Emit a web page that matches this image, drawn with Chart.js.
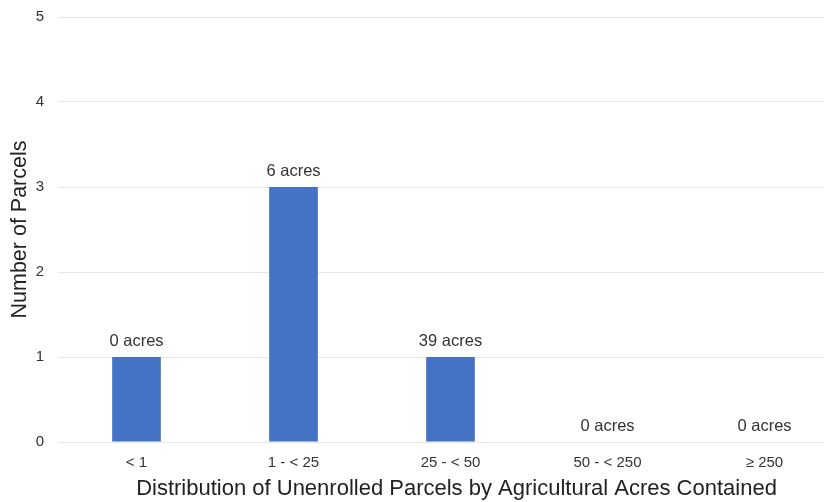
<!DOCTYPE html>
<html>
<head>
<meta charset="utf-8">
<script src="https://cdn.jsdelivr.net/npm/chart.js@4"></script>
<style>
  html, body { margin: 0; padding: 0; background: #fff; overflow: hidden; }
  #wrap { width: 843px; height: 502px; position: relative; }
</style>
</head>
<body>
<div id="wrap"><canvas id="c"></canvas></div>
<script>
// Acreage size classes
const categories = ['< 1', '1 - < 25', '25 - < 50', '50 - < 250', '\u2265 250'];
// Number of unenrolled parcels in each class
const parcelCounts = [1, 3, 1, 0, 0];
// Total agricultural acres contained in each class
const acresContained = [0, 6, 39, 0, 0];
const yTicks = [0, 1, 2, 3, 4, 5];
const xTitle = 'Distribution of Unenrolled Parcels by Agricultural Acres Contained';

const FONT = '"Liberation Sans", Arial, sans-serif';

// Writes "N acres" above each bar and the x-axis caption under the tick labels
const acreLabels = {
  id: 'acreLabels',
  afterDatasetsDraw(chart) {
    const ctx = chart.ctx;
    const meta = chart.getDatasetMeta(0);
    ctx.save();
    ctx.font = '16.5px ' + FONT;
    ctx.fillStyle = '#333';
    ctx.textAlign = 'center';
    ctx.textBaseline = 'middle';
    meta.data.forEach((bar, i) => {
      ctx.fillText(acresContained[i] + ' acres', bar.x, bar.y - 16);
    });
    // caption, centred slightly right of the scale midpoint
    const xs = chart.scales.x;
    ctx.font = '22px ' + FONT;
    ctx.fillStyle = '#222';
    ctx.fillText(xTitle, (xs.left + xs.right) / 2 + 6, xs.bottom - 13);
    ctx.restore();
  }
};

new Chart(document.getElementById('c'), {
  type: 'bar',
  data: {
    labels: categories,
    datasets: [{
      data: parcelCounts,
      backgroundColor: '#4472c4',
      borderWidth: 0,
      categoryPercentage: 1.0,
      barPercentage: 0.31
    }]
  },
  options: {
    responsive: true,
    maintainAspectRatio: false,
    animation: false,
    layout: { padding: { top: 17, right: 0, left: 0, bottom: 0 } },
    plugins: { legend: { display: false }, tooltip: { enabled: false } },
    scales: {
      x: {
        grid: { display: false, drawTicks: false },
        border: { display: false },
        ticks: { font: { family: FONT, size: 15 }, color: '#333', padding: 12, maxRotation: 0 },
        title: { display: false },
        afterFit(scale) { scale.height = 60; }
      },
      y: {
        min: 0,
        max: 5,
        afterBuildTicks(scale) { scale.ticks = yTicks.map(v => ({ value: v })); },
        grid: { color: '#e6e6e6', lineWidth: 1, drawTicks: false },
        border: { display: false },
        ticks: { font: { family: FONT, size: 15 }, color: '#333', padding: 14 },
        title: {
          display: true,
          text: 'Number of Parcels',
          font: { family: FONT, size: 21.5 },
          color: '#222',
          padding: { top: 7, bottom: 0 }
        },
        afterFit(scale) {
          scale.width = 58;
          scale.paddingTop = 0;
          scale.paddingBottom = 0;
        }
      }
    }
  },
  plugins: [acreLabels]
});
</script>
</body>
</html>
